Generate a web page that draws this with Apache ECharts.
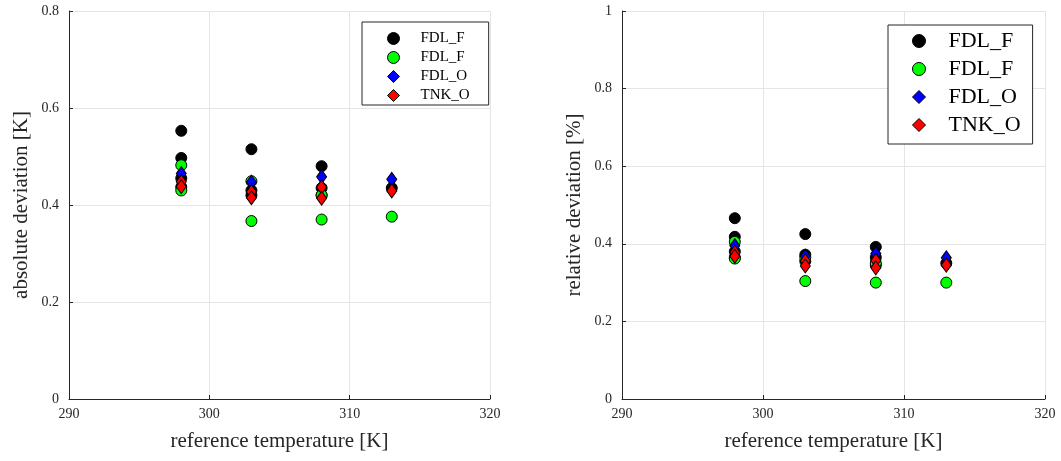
<!DOCTYPE html>
<html>
<head>
<meta charset="utf-8">
<script src="https://cdn.jsdelivr.net/npm/echarts@6/dist/echarts.min.js"></script>
<style>
html,body{margin:0;padding:0;background:#fff;}
#c{width:1061px;height:461px;}
</style>
</head>
<body>
<div id="c"></div>
<script>
// ---- data ----
var xTicks = [290, 300, 310, 320];
var absTicks = [0, 0.2, 0.4, 0.6, 0.8];
var relTicks = [0, 0.2, 0.4, 0.6, 0.8, 1];
var seriesNames = ['FDL_F', 'FDL_F ', 'FDL_O', 'TNK_O'];

// absolute deviation [K]
var absBlackT = [298, 298, 298, 298, 303, 303, 303, 308, 308, 308, 313];
var absBlackV = [0.553, 0.497, 0.455, 0.437, 0.515, 0.430, 0.420, 0.480, 0.435, 0.420, 0.435];
var absGreenT = [298, 298, 303, 303, 308, 308, 313];
var absGreenV = [0.482, 0.430, 0.449, 0.367, 0.420, 0.370, 0.376];
var absBlueT = [298, 303, 308, 313];
var absBlueV = [0.465, 0.447, 0.458, 0.453];
var absRedT = [298, 298, 303, 303, 308, 308, 313];
var absRedV = [0.448, 0.438, 0.427, 0.415, 0.437, 0.414, 0.429];

// relative deviation [%]
var relBlackT = [298, 298, 298, 298, 303, 303, 303, 308, 308, 308, 313];
var relBlackV = [0.466, 0.418, 0.380, 0.365, 0.425, 0.372, 0.355, 0.392, 0.365, 0.345, 0.350];
var relGreenT = [298, 298, 303, 303, 308, 308, 313];
var relGreenV = [0.405, 0.362, 0.365, 0.304, 0.350, 0.300, 0.300];
var relBlueT = [298, 303, 308, 313];
var relBlueV = [0.395, 0.368, 0.375, 0.364];
var relRedT = [298, 298, 303, 303, 308, 308, 313];
var relRedV = [0.378, 0.368, 0.356, 0.343, 0.357, 0.338, 0.345];

function pairs(t, v) { return t.map(function (x, i) { return [x, v[i]]; }); }

var FONT = '"Liberation Serif", "DejaVu Serif", serif';
var gridLine = { show: true, lineStyle: { color: '#e5e5e5', width: 1 } };
var axLine = { show: true, onZero: false, lineStyle: { color: '#262626', width: 1 } };
var tick = { show: true, inside: true, length: 4, lineStyle: { color: '#262626' } };

function xAxis(gi) {
  return {
    type: 'value', gridIndex: gi, min: 290, max: 320, interval: 10,
    name: 'reference temperature [K]', nameLocation: 'middle', nameGap: 32,
    nameTextStyle: { fontFamily: FONT, fontSize: 21, color: '#262626' },
    axisLine: axLine, axisTick: tick, splitLine: gridLine,
    axisLabel: { fontFamily: FONT, fontSize: 14, color: '#262626', margin: 8 }
  };
}
function yAxis(gi, name, max) {
  return {
    type: 'value', gridIndex: gi, min: 0, max: max, interval: 0.2,
    name: name, nameLocation: 'middle', nameGap: 37, nameRotate: 90,
    nameTextStyle: { fontFamily: FONT, fontSize: 21, color: '#262626' },
    axisLine: axLine, axisTick: tick, splitLine: gridLine,
    axisLabel: { fontFamily: FONT, fontSize: 14, color: '#262626', margin: 10,
      formatter: function (v) { return String(+v.toFixed(1)); } }
  };
}

var colors = ['#000000', '#00ff00', '#0000ff', '#ff0000'];
var symbols = ['circle', 'circle', 'diamond', 'diamond'];
var sizes = [11, 11, [10, 14], [10, 14]];

function makeSeries(gi, datas) {
  return datas.map(function (d, i) {
    return {
      type: 'scatter', name: seriesNames[i], xAxisIndex: gi, yAxisIndex: gi,
      symbol: symbols[i], symbolSize: sizes[i], data: d,
      itemStyle: { color: colors[i], borderColor: '#000', borderWidth: 1, opacity: 1 },
      emphasis: { disabled: true }, z: 2 + i
    };
  });
}

var series = makeSeries(0, [pairs(absBlackT, absBlackV), pairs(absGreenT, absGreenV),
  pairs(absBlueT, absBlueV), pairs(absRedT, absRedV)])
  .concat(makeSeries(1, [pairs(relBlackT, relBlackV), pairs(relGreenT, relGreenV),
  pairs(relBlueT, relBlueV), pairs(relRedT, relRedV)]));

function legend(opt) {
  return Object.assign({
    orient: 'vertical', data: seriesNames.map(function (n, i) {
      return { name: n, icon: symbols[i] };
    }),
    formatter: function (n) { return n.trim(); },
    backgroundColor: '#fff', borderColor: '#262626', borderWidth: 1,
    selectedMode: false, itemStyle: { borderColor: '#000', borderWidth: 1 }
  }, opt);
}

var chart = echarts.init(document.getElementById('c'), null, { renderer: 'canvas' });
chart.setOption({
  animation: false,
  backgroundColor: '#fff',
  grid: [
    { left: 69, top: 11, width: 421, height: 388 },
    { left: 622, top: 11, width: 423, height: 388 }
  ],
  xAxis: [xAxis(0), xAxis(1)],
  yAxis: [yAxis(0, 'absolute deviation [K]', 0.8), yAxis(1, 'relative deviation [%]', 1)],
  legend: [
    legend({ left: 362, top: 22, itemWidth: 12, itemHeight: 12, itemGap: 4,
      padding: [9, 19, 2, 25],
      textStyle: { fontFamily: FONT, fontSize: 15, lineHeight: 14, color: '#000', padding: [0, 0, 0, 16] } }),
    legend({ left: 888, top: 25, itemWidth: 13, itemHeight: 13, itemGap: 6,
      padding: [5, 12, 8, 24],
      textStyle: { fontFamily: FONT, fontSize: 22, lineHeight: 22, color: '#000', padding: [0, 0, 0, 18] } })
  ],
  series: series
});
</script>
</body>
</html>
